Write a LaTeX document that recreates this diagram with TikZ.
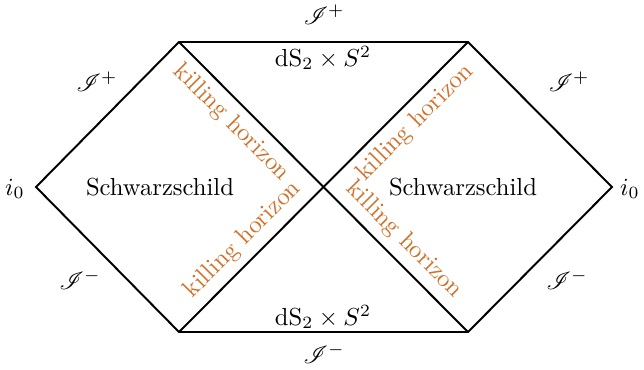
\documentclass[tikz,border=0pt]{standalone}
\usepackage{amsmath}
\usepackage{mathrsfs}
\definecolor{horiz}{RGB}{209,112,40}
\begin{document}
\begin{tikzpicture}[x=0.406pt,y=-0.406pt,
  edge/.style={draw=black,thick,line join=miter},
  hlabel/.style={text=horiz,font=\normalsize,sloped},
  lbl/.style={inner sep=0pt}]
\useasboundingbox (0,0) rectangle (644,370);
\coordinate (L) at (36,187);
\coordinate (TL) at (179,42);
\coordinate (TR) at (468,42);
\coordinate (R) at (612,187);
\coordinate (BR) at (468,332);
\coordinate (BL) at (179,332);
\coordinate (C) at (323.5,187);
\draw[edge] (L) -- (TL) -- (TR) -- (R) -- (BR) -- (BL) -- cycle;
\draw[edge] (TL) -- (BR);
\draw[edge] (BL) -- (TR);
% horizon labels
\path (TL) -- (C) node[hlabel,pos=0.46,below] (h1) {killing horizon};
\path (C) -- (TR) node[hlabel,pos=0.54,below] (h2) {killing horizon};
\path (BL) -- (C) node[hlabel,pos=0.54,above] (h3) {killing horizon};
\path (C) -- (BR) node[hlabel,pos=0.46,above] (h4) {killing horizon};
% text
\node[lbl] (s1) at (160,187) {Schwarzschild};
\node[lbl] (s2) at (463,187) {Schwarzschild};
\node[lbl] (i1) at (15,189) {$i_0$};
\node[lbl] (i2) at (630,189) {$i_0$};
\node[lbl] (d1) at (323,58) {$\mathrm{dS}_2\times S^2$};
\node[lbl] (d2) at (323,317) {$\mathrm{dS}_2\times S^2$};
\node[lbl] (st) at (324,15) {$\mathscr{I}^+$};
\node[lbl] (sb) at (324,354) {$\mathscr{I}^-$};
\node[lbl] (sl1) at (97,82) {$\mathscr{I}^+$};
\node[lbl] (sl2) at (80,280) {$\mathscr{I}^-$};
\node[lbl] (sr1) at (569,82) {$\mathscr{I}^+$};
\node[lbl] (sr2) at (567,280) {$\mathscr{I}^-$};
\end{tikzpicture}
\end{document}
